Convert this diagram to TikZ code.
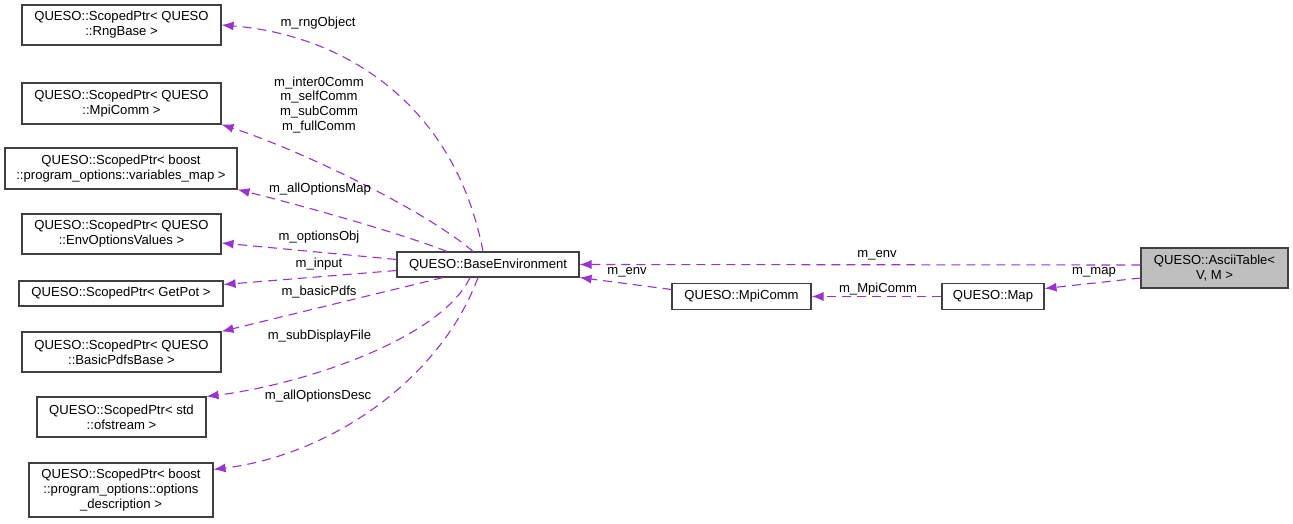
\documentclass[tikz,border=0pt]{standalone}
\usepackage{fontspec}
\setmainfont{Liberation Sans}
\usetikzlibrary{arrows.meta}

\definecolor{relcol}{HTML}{9A32CD}
\definecolor{boxcol}{HTML}{404040}
\definecolor{mainfill}{HTML}{BFBFBF}

\begin{document}
\begin{tikzpicture}[x=1pt, y=-1pt,
    font=\fontsize{13.1}{14.9}\selectfont,
    cls/.style={draw=boxcol, line width=1.1pt, inner sep=0pt, align=center},
    rel/.style={draw=relcol, line width=1.1pt, dash pattern=on 9pt off 6pt,
        -{Latex[length=12pt, width=9pt]}},
    lbl/.style={inner sep=0pt, align=center}]
    \useasboundingbox (0,0) rectangle (1293,524);

    % 左侧的 ScopedPtr 类
    \node[cls, minimum width=199, minimum height=40] (rng) at (121.5,25)
        {QUESO::ScopedPtr< QUESO\\::RngBase >};
    \node[cls, minimum width=199, minimum height=41] (mpiptr) at (121.5,103.5)
        {QUESO::ScopedPtr< QUESO\\::MpiComm >};
    \node[cls, minimum width=232, minimum height=41] (varmap) at (121,168.5)
        {QUESO::ScopedPtr< boost\\::program\_options::variables\_map >};
    \node[cls, minimum width=199, minimum height=40] (envopt) at (121.5,234)
        {QUESO::ScopedPtr< QUESO\\::EnvOptionsValues >};
    \node[cls, minimum width=204, minimum height=25] (getpot) at (121,293.5)
        {QUESO::ScopedPtr< GetPot >};
    \node[cls, minimum width=199, minimum height=40] (pdfs) at (121.5,352)
        {QUESO::ScopedPtr< QUESO\\::BasicPdfsBase >};
    \node[cls, minimum width=169, minimum height=40] (ofs) at (121.5,417)
        {QUESO::ScopedPtr< std\\::ofstream >};
    \node[cls, minimum width=184, minimum height=54] (optdesc) at (121,490)
        {QUESO::ScopedPtr< boost\\::program\_options::options\\\_description >};

    % 中间和右侧的类
    \node[cls, minimum width=182, minimum height=25] (base) at (488,264.5)
        {QUESO::BaseEnvironment};
    \node[cls, minimum width=139, minimum height=26] (mpi) at (741.5,296.5)
        {QUESO::MpiComm};
    \node[cls, minimum width=102, minimum height=26] (map) at (993,296.5)
        {QUESO::Map};
    \node[cls, fill=mainfill, minimum width=147, minimum height=40] (ascii) at (1214.5,268)
        {QUESO::AsciiTable<\\V, M >};

    % BaseEnvironment 的成员
    \draw[rel] ([xshift=-5pt]base.north) .. controls (455,105) and (345,35) .. (rng.east);
    \draw[rel] ([xshift=-15pt]base.north) .. controls (425,210) and (300,150) .. (mpiptr.south east);
    \draw[rel] ([xshift=-41pt]base.north) .. controls (400,233) and (300,205) .. (varmap.south east);
    \draw[rel] ([yshift=5pt]base.west) -- ([yshift=-9pt]envopt.east);
    \draw[rel] ([yshift=-6pt]base.west) -- ([yshift=9pt]getpot.east);
    \draw[rel] ([xshift=-45pt]base.south) -- (pdfs.north east);
    \draw[rel] ([xshift=-18pt]base.south) .. controls (440,340) and (300,385) .. (ofs.north east);
    \draw[rel] ([xshift=-10pt]base.south) .. controls (440,380) and (330,455) .. ([yshift=-7pt]optdesc.north east);

    % 右侧的关系
    \draw[rel] ([yshift=3pt]ascii.west) -- (base.east);
    \draw[rel] ([yshift=-10pt]ascii.west) -- ([yshift=8pt]map.east);
    \draw[rel] (map.west) -- (mpi.east);
    \draw[rel] ([yshift=7pt]mpi.west) -- (base.south east);

    % 标注
    \node[lbl] (l_rng) at (318,23) {m\_rngObject};
    \node[lbl] (l_comm) at (319,105) {m\_inter0Comm\\m\_selfComm\\m\_subComm\\m\_fullComm};
    \node[lbl] (l_map) at (320,189) {m\_allOptionsMap};
    \node[lbl] (l_obj) at (319,237) {m\_optionsObj};
    \node[lbl] (l_input) at (319,264) {m\_input};
    \node[lbl] (l_pdfs) at (319,292) {m\_basicPdfs};
    \node[lbl] (l_disp) at (319.5,336) {m\_subDisplayFile};
    \node[lbl] (l_desc) at (318,396) {m\_allOptionsDesc};
    \node[lbl] (l_env) at (877,255) {m\_env};
    \node[lbl] (l_mmap) at (1094,272) {m\_map};
    \node[lbl] (l_mpi) at (878,289) {m\_MpiComm};
    \node[lbl] (l_env2) at (627,272) {m\_env};
\end{tikzpicture}
\end{document}
